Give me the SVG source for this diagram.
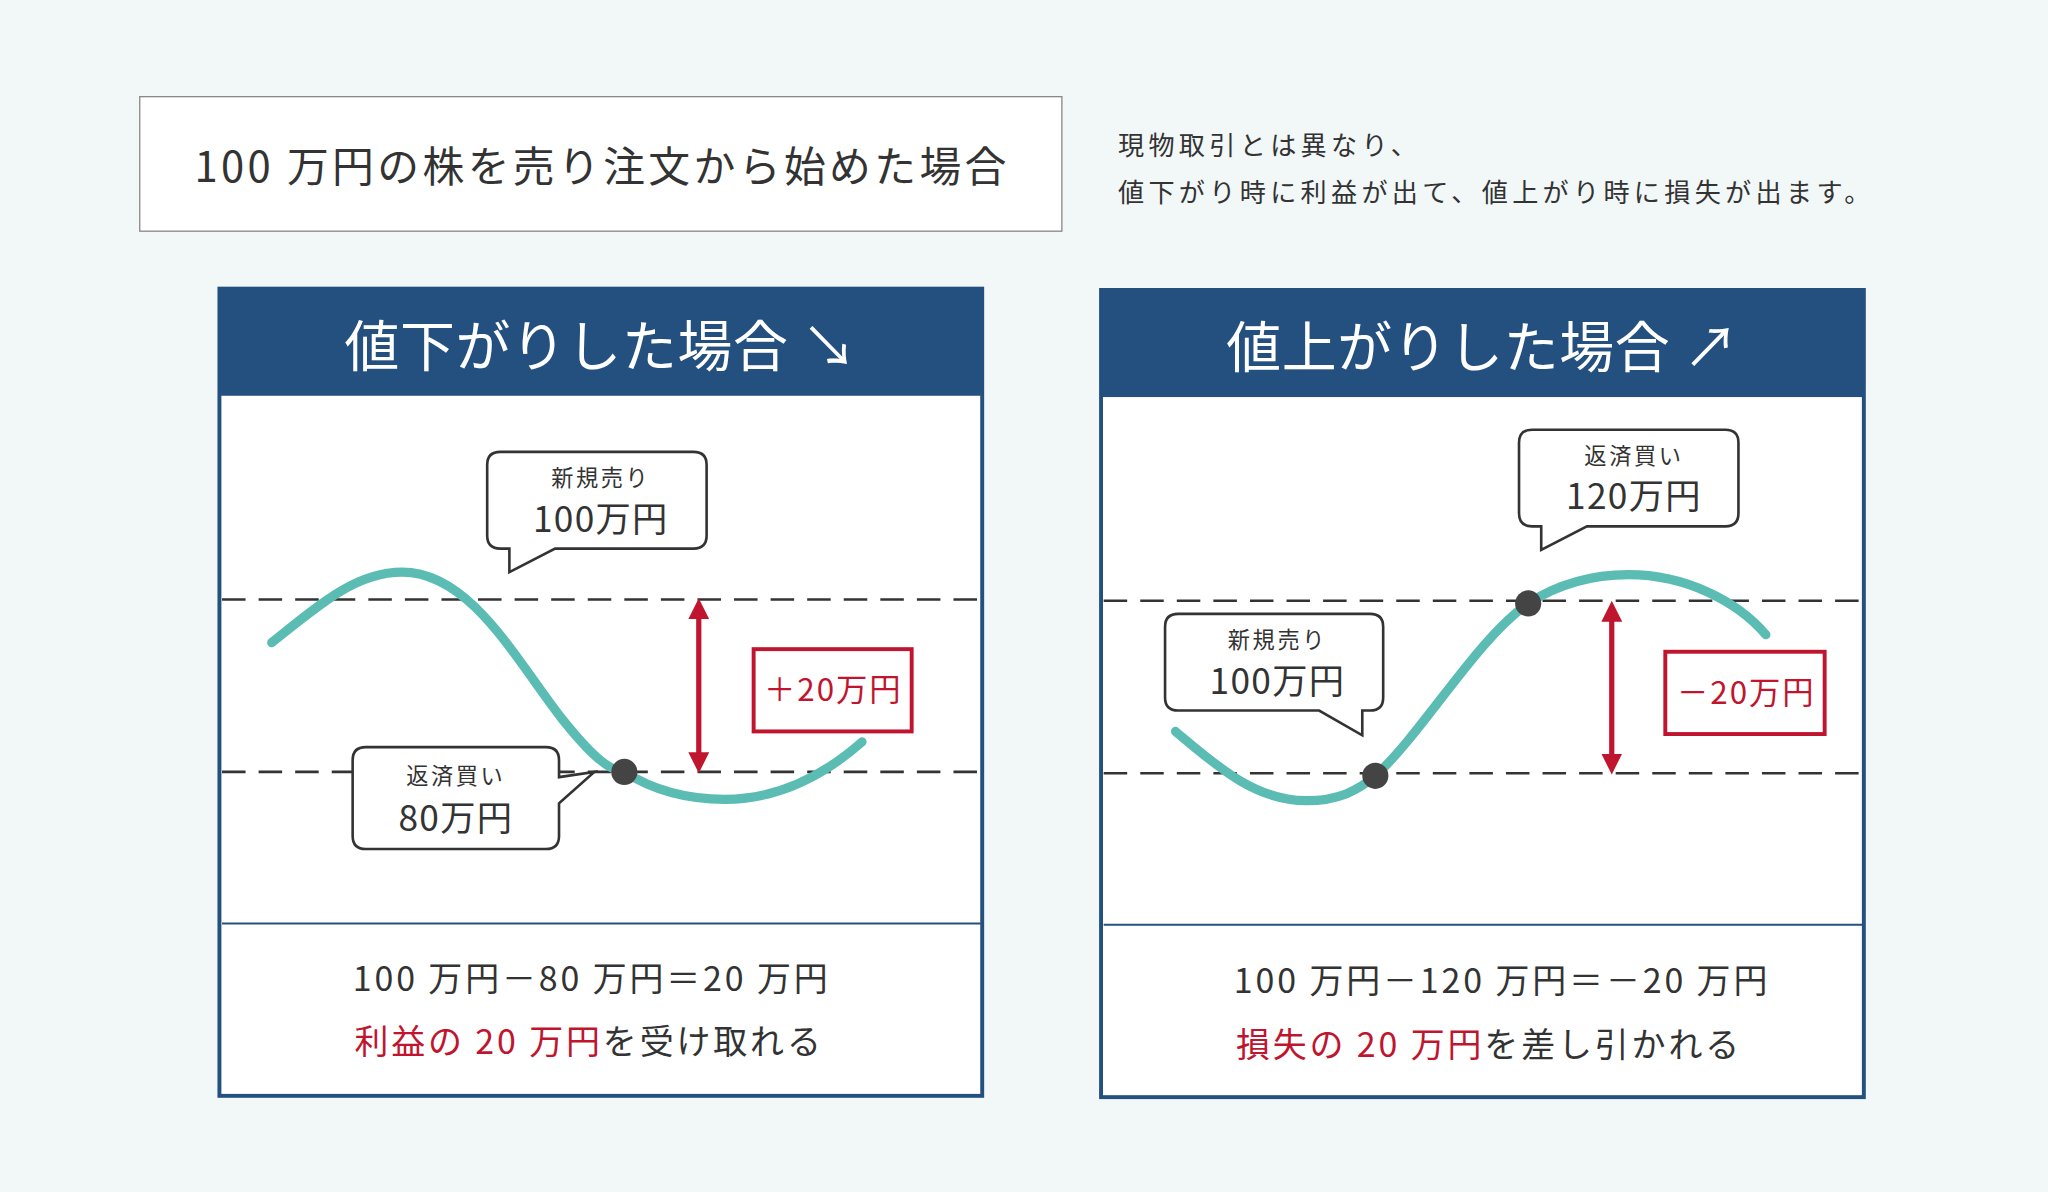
<svg xmlns="http://www.w3.org/2000/svg" width="2048" height="1192" viewBox="0 0 2048 1192">
<style>
text{font-family:"Noto Sans CJK JP","Noto Sans",sans-serif;fill:#333;text-anchor:middle}
.hd{fill:#fff;font-size:42px;letter-spacing:0.5px}
.sm{font-size:17px;letter-spacing:2px}
.bg{font-size:27px;letter-spacing:1px}
.eq{font-size:26px;letter-spacing:2.2px}
.dash{stroke:#333;stroke-width:2;stroke-dasharray:18 10}
.curve{fill:none;stroke:#5bbcb4;stroke-width:7;stroke-linecap:round}
.bub{fill:#fff;stroke:#333;stroke-width:2}
.red{fill:#c0152f}
.rbox{fill:#fff;stroke:#c0152f;stroke-width:3}
.frame{fill:#fff;stroke:#23507e;stroke-width:3}
</style>
<defs>
<marker id="ah" viewBox="0 0 10 10" refX="5" refY="5" markerWidth="4" markerHeight="4" orient="auto-start-reverse"><path d="M0,0L10,5L0,10z" fill="#c0152f"/></marker>
</defs>
<rect width="2048" height="1192" fill="#f2f7f7"/>
<g transform="scale(1.30612)">
<g id="title">
<rect x="107" y="74" width="706" height="103" fill="#fff" stroke="#888" stroke-width="1"/>
<text x="461" y="139" font-size="32" letter-spacing="2.6">100 万円の株を売り注文から始めた場合</text>
</g>
<g id="note">
<text x="856" y="119" font-size="20" letter-spacing="3.3" style="text-anchor:start">現物取引とは異なり、</text>
<text x="856" y="155" font-size="20" letter-spacing="3.3" style="text-anchor:start">値下がり時に利益が出て、値上がり時に損失が出ます。</text>
</g>
<g id="left-panel">
<rect class="frame" x="168" y="221" width="584" height="618"/>
<rect x="168" y="221" width="584" height="82" fill="#23507e"/>
<text class="hd" x="460" y="280">値下がりした場合 ↘</text>
<line x1="170" y1="707" x2="751" y2="707" stroke="#23507e" stroke-width="1.5"/>
<text class="eq" x="453" y="759">100 万円－80 万円＝20 万円</text>
<text class="eq" x="451" y="807"><tspan class="red">利益の 20 万円</tspan>を受け取れる</text>
</g>
<g id="right-panel">
<rect class="frame" x="843" y="222" width="584" height="618"/>
<rect x="843" y="222" width="584" height="82" fill="#23507e"/>
<text class="hd" x="1135" y="281">値上がりした場合 ↗</text>
<line x1="845" y1="708" x2="1426" y2="708" stroke="#23507e" stroke-width="1.5"/>
<text class="eq" x="1150" y="760">100 万円－120 万円＝－20 万円</text>
<text class="eq" x="1140" y="809"><tspan class="red">損失の 20 万円</tspan>を差し引かれる</text>
</g>
<g id="connectors">
<line class="dash" x1="170" y1="459" x2="751" y2="459"/>
<line class="dash" x1="170" y1="591" x2="751" y2="591"/>
<line class="dash" x1="845" y1="460" x2="1426" y2="460"/>
<line class="dash" x1="845" y1="592" x2="1426" y2="592"/>
<path class="curve" d="M208,492 C250,458 275,438 308,438 C360,438 395,505 430,550 C450,575 465,590 478,591 C500,605 525,612 555,612 C600,612 635,590 660,568"/>
<path class="curve" d="M900,560 C930,585 960,613 1000,613 C1025,613 1040,605 1053,594 C1090,560 1130,490 1170,462 C1195,446 1220,440 1247,440 C1290,440 1330,460 1352,486"/>
<line x1="535" y1="466" x2="535" y2="584" stroke="#c0152f" stroke-width="4" marker-start="url(#ah)" marker-end="url(#ah)"/>
<line x1="1234" y1="468" x2="1234" y2="585" stroke="#c0152f" stroke-width="4" marker-start="url(#ah)" marker-end="url(#ah)"/>
</g>
<g id="dots" fill="#444">
<circle cx="478" cy="591" r="10"/>
<circle cx="1053" cy="594" r="10"/>
<circle cx="1170" cy="462" r="10"/>
</g>
<g id="box-plus">
<rect class="rbox" x="577" y="497" width="121" height="63"/>
<text x="638" y="537" font-size="24" letter-spacing="1.5" style="fill:#c0152f">＋20万円</text>
</g>
<g id="box-minus">
<rect class="rbox" x="1275" y="499" width="122" height="63"/>
<text x="1337" y="539" font-size="24" letter-spacing="1.5" style="fill:#c0152f">－20万円</text>
</g>
<g id="bubble-sell-left">
<path class="bub" d="M383,346H531Q541,346 541,356V410Q541,420 531,420H425L390,438V420H383Q373,420 373,410V356Q373,346 383,346Z"/>
<text class="sm" x="460" y="372">新規売り</text>
<text class="bg" x="460" y="407">100万円</text>
</g>
<g id="bubble-buy-left">
<path class="bub" d="M280,572H418Q428,572 428,582V595L455,591L428,615V640Q428,650 418,650H280Q270,650 270,640V582Q270,572 280,572Z"/>
<text class="sm" x="349" y="600">返済買い</text>
<text class="bg" x="349" y="636">80万円</text>
</g>
<g id="bubble-buy-right">
<path class="bub" d="M1173,329H1321Q1331,329 1331,339V393Q1331,403 1321,403H1215L1180,421V403H1173Q1163,403 1163,393V339Q1163,329 1173,329Z"/>
<text class="sm" x="1251" y="355">返済買い</text>
<text class="bg" x="1251" y="390">120万円</text>
</g>
<g id="bubble-sell-right">
<path class="bub" d="M902,470H1049Q1059,470 1059,480V534Q1059,544 1049,544H1043V563L1010,544H902Q892,544 892,534V480Q892,470 902,470Z"/>
<text class="sm" x="978" y="496">新規売り</text>
<text class="bg" x="978" y="531">100万円</text>
</g>
</g>
</svg>
